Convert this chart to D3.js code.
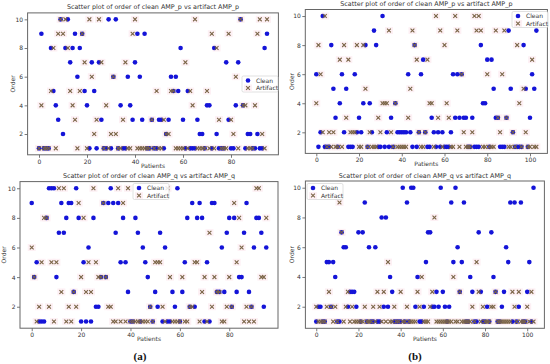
<!DOCTYPE html>
<html>
<head>
<meta charset="utf-8">
<script src="https://cdn.jsdelivr.net/npm/d3@7"></script>
<style>
  body { margin: 0; background: #fff; }
  svg { display: block; font-family: "DejaVu Sans", sans-serif; }
</style>
</head>
<body>
<svg id="fig" width="550" height="364"></svg>
<script>
// order of each patient (index = patient)
var ampPCleanA = [1,9,1,1,1,8,5,4,3,10, 2,8,10,7,8,9,6,8,9,5, 4,1,7,5,1,7,3,1,1,10,
  1,6,10,1,4,1,1,6,4,3, 7,9,6,3,9,1,1,3,1,1, 3,3,1,2,3,6,5,6,5,8, 3,1,5,1,1,1,3,2,2,1,
  4,4,1,8,2,1,1,1,7,3, 1,1,4,7,10,4,1,2,2,1, 1,2,1,1,8,9];
var ampPArtifactA = [1,4,1,1,1,5,8,1,9,10, 9,10,8,5,4,3,1,5,9,7, 1,10,6,2,3,10,7,1,4,1,
  2,6,2,1,1,3,7,1,1,9, 10,1,1,1,1,1,1,3,1,5, 1,1,3,2,2,5,5,1,1,1, 1,7,1,5,4,10,1,1,1,1,
  5,1,9,1,8,3,1,1,1,9, 3,2,6,1,10,4,4,1,1,1, 4,9,10,2,1,10];

var ampPCleanB = [6,1,2,10,1,1,1,8,5,3, 1,4,6,2,5,1,1,1,6,2, 3,2,4,8,1,4,2,9,8,1,
  1,10,1,2,1,3,1,4,2,2, 2,2,2,6,2,1,8,1,2,6, 7,2,1,1,3,2,1,2,1,2, 1,1,1,2,6,3,6,3,6,3,
  3,1,1,3,1,1,1,8,4,4, 7,1,7,5,3,3,1,1,1,3, 9,5,2,1,1,1,1,8,5,1, 3,6,5,9];
var ampPArtifactB = [4,8,6,2,10,1,2,1,2,1, 1,7,1,8,3,7,2,2,2,8, 1,1,8,5,1,2,1,1,1,3,
  2,4,4,4,9,2,1,4,1,1, 1,1,1,3,5,9,8,7,2,1, 1,2,7,4,4,1,10,3,9,1, 8,4,3,1,1,10,9,1,6,2,
  1,1,1,2,10,9,10,9,1,1, 6,1,1,1,9,3,2,6,9,3, 1,1,2,1,8,4,1,5,2,1, 1,7,1,1];

var ampQCleanA = [9,4,5,1,1,1,8,10,10,10, 4,7,9,7,8,9,9,3,10,8, 1,5,1,6,1,8,2,2,4,9,
  4,9,10,9,7,9,5,8,5,3, 1,1,8,7,1,6,5,4,2,1, 3,2,7,1,6,1,1,3,2,10, 1,3,5,8,2,9,2,8,9,8,
  1,5,1,9,9,3,3,6,3,7, 8,2,8,3,4,4,7,9,3,2, 6,8,8,7,2,6];
var ampQArtifactA = [6,4,1,2,5,8,8,2,5,1, 5,10,3,10,1,2,1,3,2,9, 4,8,3,5,3,10,5,4,4,9,
  4,2,2,1,1,10,1,9,1,10, 1,1,1,1,1,1,1,1,2,1, 5,5,5,2,1,10,4,1,1,1, 1,4,1,1,2,2,5,5,1,3,
  4,1,7,2,4,3,3,1,1,2, 4,2,9,5,8,6,1,2,1,2, 1,10,10,4,4,8];

var ampQCleanB = [1,2,2,1,1,5,5,2,5,4, 1,1,7,6,6,2,3,3,3,2, 7,1,7,9,1,6,1,1,6,1,
  1,8,2,8,2,4,3,1,1,1, 1,10,1,9,1,10,10,2,4,1, 1,2,5,7,7,2,2,3,2,10, 3,2,1,2,9,5,10,6,3,5,
  9,1,1,4,3,1,1,7,3,1, 1,2,1,7,4,3,1,1,2,3, 6,5,9,1,9,1,2,9,1,1, 3,5,1,10];
var ampQArtifactB = [2,1,1,1,1,2,3,2,1,2, 1,9,7,1,2,3,1,2,1,1, 1,1,1,2,1,1,1,2,1,3,
  2,1,3,1,5,1,1,2,1,1, 3,1,1,2,1,1,1,1,3,2, 4,1,1,1,2,3,8,1,1,1, 1,1,1,1,1,4,1,1,3,1,
  1,1,1,1,2,1,5,3,1,2, 1,1,1,2,2,3,1,1,1,1, 1,1,1,3,2,1,3,1,1,1, 2,1,3,1];

var yTicks = [2, 4, 6, 8, 10];
var xTicksA = [0, 20, 40, 60, 80];
var xTicksB = [0, 20, 40, 60, 80, 100];
var legendLabels = ["Clean", "Artifact"];
var titleP = "Scatter plot of order of clean AMP_p vs artifact AMP_p";
var titleQ = "Scatter plot of order of clean AMP_q vs artifact AMP_q";
var panelLabels = ["(a)", "(b)"];

var cleanColor = "#1414d8",
    artColor = "#7a6446",
    haloColor = "#fdf0f4";

var svg = d3.select("#fig");

var panels = [
  { title: titleP, clean: ampPCleanA, art: ampPArtifactA, xTicks: xTicksA,
    box: [27.6, 12.9, 278.4, 154.8], ylab: 12.5, legend: [242, 76] },
  { title: titleP, clean: ampPCleanB, art: ampPArtifactB, xTicks: xTicksB,
    box: [305.3, 9.5, 547.4, 153.4], ylab: 292, legend: [512, 11.5] },
  { title: titleQ, clean: ampQCleanA, art: ampQArtifactA, xTicks: xTicksA,
    box: [20, 181.6, 278, 328.2], ylab: 4, legend: [133, 183.5] },
  { title: titleQ, clean: ampQCleanB, art: ampQArtifactB, xTicks: xTicksB,
    box: [305.4, 181, 544.4, 328.3], ylab: 291.5, legend: [307, 183.5] }
];

panels.forEach(function(p) {
  var n = p.clean.length,
      pad = (n - 1) * 0.05,
      x0 = p.box[0], y0 = p.box[1], x1 = p.box[2], y1 = p.box[3];

  var x = d3.scaleLinear().domain([-pad, n - 1 + pad]).range([x0, x1]);
  var y = d3.scaleLinear().domain([0.55, 10.45]).range([y1, y0]);

  var g = svg.append("g");

  // faint pink halo behind the artifact marks (as in the scan)
  g.selectAll("rect.halo").data(p.art).enter().append("rect")
    .attr("class", "halo")
    .attr("x", function(d, i) { return x(i) - 4; })
    .attr("y", function(d) { return y(d) - 3.5; })
    .attr("width", 8).attr("height", 7)
    .attr("fill", haloColor);

  g.selectAll("circle").data(p.clean).enter().append("circle")
    .attr("cx", function(d, i) { return x(i); })
    .attr("cy", function(d) { return y(d); })
    .attr("r", 2.3)
    .attr("fill", cleanColor);

  var s = 1.9;
  g.selectAll("path.art").data(p.art).enter().append("path")
    .attr("class", "art")
    .attr("d", function(d, i) {
      var cx = x(i), cy = y(d);
      return "M" + (cx - s) + "," + (cy - s) + "L" + (cx + s) + "," + (cy + s) +
             "M" + (cx - s) + "," + (cy + s) + "L" + (cx + s) + "," + (cy - s);
    })
    .attr("stroke", artColor).attr("stroke-width", 1.1).attr("fill", "none");

  // axes
  var ax = g.append("g").attr("transform", "translate(0," + y1 + ")")
    .call(d3.axisBottom(x).tickValues(p.xTicks).tickFormat(d3.format("d"))
      .tickSize(3).tickSizeOuter(0).tickPadding(1.5));
  var ay = g.append("g").attr("transform", "translate(" + x0 + ",0)")
    .call(d3.axisLeft(y).tickValues(yTicks).tickFormat(d3.format("d"))
      .tickSize(3).tickSizeOuter(0).tickPadding(1.5));
  [ax, ay].forEach(function(a) {
    a.select(".domain").remove();
    a.selectAll("line").attr("stroke", "#555").attr("stroke-width", 0.8);
    a.selectAll("text").attr("font-size", 6).attr("fill", "#333")
      .attr("font-family", "DejaVu Sans");
  });

  g.append("rect")
    .attr("x", x0).attr("y", y0)
    .attr("width", x1 - x0).attr("height", y1 - y0)
    .attr("fill", "none").attr("stroke", "#666").attr("stroke-width", 1);

  g.append("text")
    .attr("x", (x0 + x1) / 2).attr("y", y0 - 3.5)
    .attr("text-anchor", "middle").attr("font-size", 6.4).attr("fill", "#333")
    .text(p.title);

  g.append("text")
    .attr("x", (x0 + x1) / 2).attr("y", y1 + 13)
    .attr("text-anchor", "middle").attr("font-size", 6).attr("fill", "#333")
    .text("Patients");

  g.append("text")
    .attr("transform", "translate(" + (p.ylab + 2) + "," + ((y0 + y1) / 2) + ") rotate(-90)")
    .attr("text-anchor", "middle").attr("font-size", 6).attr("fill", "#333")
    .text("Order");

  // legend
  var lx = p.legend[0], ly = p.legend[1];
  var lg = g.append("g").attr("transform", "translate(" + lx + "," + ly + ")");
  lg.append("rect").attr("width", 36).attr("height", 16).attr("rx", 1.5)
    .attr("fill", "#fff").attr("fill-opacity", 0.85)
    .attr("stroke", "#ccc").attr("stroke-width", 0.6);
  legendLabels.forEach(function(lab, k) {
    var cy = 4.5 + k * 7.5;
    if (k === 0) {
      lg.append("circle").attr("cx", 6).attr("cy", cy).attr("r", 2.3).attr("fill", cleanColor);
    } else {
      lg.append("rect").attr("x", 2).attr("y", cy - 3.5).attr("width", 8).attr("height", 7)
        .attr("fill", haloColor);
      lg.append("path")
        .attr("d", "M" + (6 - s) + "," + (cy - s) + "L" + (6 + s) + "," + (cy + s) +
                   "M" + (6 - s) + "," + (cy + s) + "L" + (6 + s) + "," + (cy - s))
        .attr("stroke", artColor).attr("stroke-width", 1.1);
    }
    lg.append("text").attr("x", 14).attr("y", cy + 2.1)
      .attr("font-size", 6).attr("fill", "#333").text(lab);
  });
});

// sub-figure labels
[140, 415].forEach(function(cx, k) {
  svg.append("text")
    .attr("x", cx).attr("y", 359.5)
    .attr("text-anchor", "middle")
    .attr("font-family", "Liberation Serif, serif").attr("font-weight", "bold")
    .attr("font-size", 11).attr("fill", "#111")
    .text(panelLabels[k]);
});
</script>
</body>
</html>
